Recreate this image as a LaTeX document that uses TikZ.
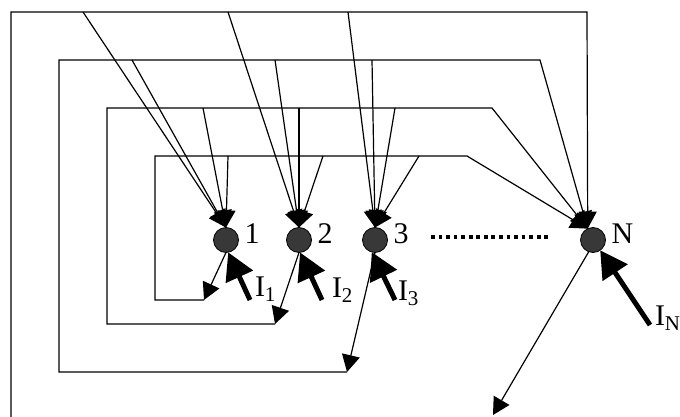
\documentclass[tikz,border=0pt]{standalone}
\usepackage{fontspec}
\setmainfont{Liberation Serif}
\usetikzlibrary{positioning,arrows.meta}

\begin{document}
\begin{tikzpicture}
[x=1pt,y=-1pt,
 every node/.style={inner sep=0pt,outer sep=0pt,font=\fontsize{30}{30}\selectfont},
 neuron/.style={circle,draw=black,thick,fill=black!78,minimum size=25pt},
 lab/.style={label distance=6pt,yshift=6pt},
 wire/.style={line width=1.2pt},
 arr/.style={wire,-{Triangle[length=17pt,width=18pt]}},
 ext/.style={line width=5pt,-{Triangle[length=27pt,width=29pt]}},
 dots/.style={line width=4pt,dash pattern=on 3.8pt off 3.75pt}]
\useasboundingbox (0,0) rectangle (680,417);
\node[neuron,label={[lab]right:1}] (n1) at (226,240)               {};
\node[neuron,label={[lab]right:2}] (n2) [on grid,right=73pt of n1]  {};
\node[neuron,label={[lab]right:3}] (n3) [on grid,right=76pt of n2]  {};
\node[neuron,label={[lab]right:N}] (nN) [on grid,right=218pt of n3] {};
\node[anchor=base west] (i1) at (255,296) {I\textsubscript{1}};
\node[anchor=base west] (i2) at (332,297) {I\textsubscript{2}};
\node[anchor=base west] (i3) at (398,300) {I\textsubscript{3}};
\node[anchor=base west] (iN) at (655,325) {I\textsubscript{N}};
% outputs
\coordinate (o1) at (204,300);
\coordinate (o2) at (275,324);
\coordinate (o3) at (347,372);
\coordinate (oN) at (493,415);
% loop corners
\coordinate (b1) at (11,417);
\coordinate (c1) at (11,12);
\coordinate (r1) at (587,12);
\coordinate (c2) at (59,60);
\coordinate (r2) at (540,60);
\coordinate (c3) at (107,108);
\coordinate (r3) at (492,108);
\coordinate (c4) at (155,156);
\coordinate (r4) at (467,156);
% taps
\coordinate (t11) at (83,12);
\coordinate (t12) at (228,12);
\coordinate (t13) at (348,12);
\coordinate (t21) at (132,60);
\coordinate (t22) at (275,60);
\coordinate (t23) at (372,60);
\coordinate (t31) at (203,108);
\coordinate (t32) at (299,108);
\coordinate (t33) at (395,108);
\coordinate (t41) at (228,156);
\coordinate (t42) at (323,156);
\coordinate (t43) at (419,156);
% inputs
\coordinate (s1) at (250,300);
\coordinate (s2) at (322,300);
\coordinate (s3) at (395,300);
\coordinate (sN) at (650,325);
\coordinate (d1) at (431,236.5);
\coordinate (d2) at (548,236.5);
\path[arr] (n1.south) edge (o1);
\path[arr] (n2.south) edge (o2);
\path[arr] (n3.south) edge (o3);
\path[arr] (nN.250)   edge (oN);
\draw[arr] (b1) -- (c1) -- (r1) -- (nN.115);
\draw[arr] (o3) -| (c2) -- (r2) -- (nN.115);
\draw[arr] (o2) -| (c3) -- (r3) -- (nN.115);
\draw[arr] (o1) -| (c4) -- (r4) -- (nN.115);
\path[arr] (t11) edge (n1.north);
\path[arr] (t12) edge (n2.north);
\path[arr] (t13) edge (n3.north);
\path[arr] (t21) edge (n1.north);
\path[arr] (t22) edge (n2.north);
\path[arr] (t23) edge (n3.north);
\path[arr] (t31) edge (n1.north);
\path[arr] (t32) edge (n2.north);
\path[arr] (t33) edge (n3.north);
\path[arr] (t41) edge (n1.north);
\path[arr] (t42) edge (n2.north);
\path[arr] (t43) edge (n3.north);
\path[ext] (s1) edge (n1.-80);
\path[ext] (s2) edge (n2.-85);
\path[ext] (s3) edge (n3.-105);
\path[ext] (sN) edge (nN.-55);
\draw[dots] (d1) -- (d2);
\end{tikzpicture}
\end{document}
